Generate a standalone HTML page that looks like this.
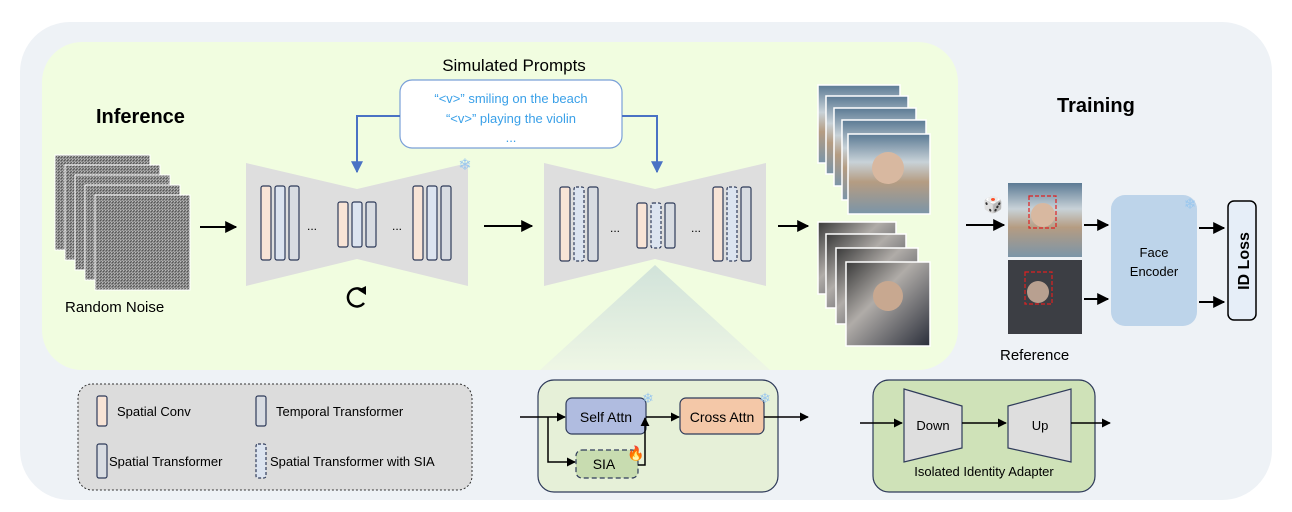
<!DOCTYPE html>
<html><head><style>
body{margin:0;background:#fff}
svg{display:block}
text{font-family:"Comic Sans MS","Liberation Sans",sans-serif}
</style></head><body>
<svg width="1292" height="512" viewBox="0 0 1292 512" xmlns="http://www.w3.org/2000/svg">
<defs>
<marker id="a" viewBox="0 0 10 10" refX="9" refY="5" markerWidth="6" markerHeight="6" orient="auto"><path d="M0,0L10,5L0,10z" fill="#000"/></marker>
<marker id="b" viewBox="0 0 10 10" refX="9" refY="5" markerWidth="6" markerHeight="6" orient="auto"><path d="M0,0L10,5L0,10z" fill="#4a72c4"/></marker>
<pattern id="n" width="3" height="3" patternUnits="userSpaceOnUse"><rect width="3" height="3" fill="#888"/><rect width="1" height="1" fill="#bbb"/><rect x="1" y="1" width="1" height="1" fill="#555"/><rect x="2" y="2" width="1" height="1" fill="#aaa"/><rect x="2" y="0" width="1" height="1" fill="#666"/></pattern>
<linearGradient id="beach" x1="0" y1="0" x2="0" y2="1"><stop offset="0" stop-color="#5b7a94"/><stop offset=".35" stop-color="#c8d2d8"/><stop offset=".6" stop-color="#b59c82"/><stop offset="1" stop-color="#7b95a8"/></linearGradient>
<linearGradient id="dark" x1="0" y1="0" x2="1" y2="1"><stop offset="0" stop-color="#3a3a3a"/><stop offset=".4" stop-color="#b0aca8"/><stop offset="1" stop-color="#2a2e3a"/></linearGradient>
<linearGradient id="tri" x1="0" y1="0" x2="0" y2="1"><stop offset="0" stop-color="#c9dcd8"/><stop offset="1" stop-color="#eef5e6"/></linearGradient>
</defs>
<rect x="20" y="22" width="1252" height="478" rx="50" fill="#eef2f6"/>
<rect x="42" y="42" width="916" height="328" rx="40" fill="#f1fde0"/>
<polygon points="655,265 540,370 770,370" fill="url(#tri)" opacity=".8"/>
<text x="96" y="123" font-size="20" font-weight="bold">Inference</text>
<text x="1057" y="112" font-size="20" font-weight="bold">Training</text>
<text x="514" y="71" font-size="17" text-anchor="middle">Simulated Prompts</text>
<rect x="400" y="80" width="222" height="68" rx="12" fill="#fff" stroke="#7aa0d8" stroke-width="1.2"/>
<text x="511" y="103" font-size="13" fill="#3aa0e8" text-anchor="middle">“&lt;v&gt;” smiling on the beach</text>
<text x="511" y="123" font-size="13" fill="#3aa0e8" text-anchor="middle">“&lt;v&gt;” playing the violin</text>
<text x="511" y="142" font-size="13" fill="#3aa0e8" text-anchor="middle">...</text>
<path d="M400,116H357V172" fill="none" stroke="#4a72c4" stroke-width="2" marker-end="url(#b)"/>
<path d="M622,116H657V172" fill="none" stroke="#4a72c4" stroke-width="2" marker-end="url(#b)"/>
<g stroke="#fff" stroke-width="1">
<rect x="55" y="155" width="95" height="95" fill="url(#n)"/>
<rect x="65" y="165" width="95" height="95" fill="url(#n)"/>
<rect x="75" y="175" width="95" height="95" fill="url(#n)"/>
<rect x="85" y="185" width="95" height="95" fill="url(#n)"/>
<rect x="95" y="195" width="95" height="95" fill="url(#n)"/>
</g>
<text x="65" y="312" font-size="15">Random Noise</text>
<line x1="200" y1="227" x2="236" y2="227" stroke="#000" stroke-width="2" marker-end="url(#a)"/>
<polygon points="246,163 357,189 468,163 468,286 357,259 246,286" fill="#dedede"/>
<g stroke="#2f3b5a" stroke-width="1.2">
<rect x="261" y="186" width="10" height="74" rx="2" fill="#f8e4d6"/>
<rect x="275" y="186" width="10" height="74" rx="2" fill="#dce4f0"/>
<rect x="289" y="186" width="10" height="74" rx="2" fill="#d8dce2"/>
<rect x="338" y="202" width="10" height="45" rx="2" fill="#f8e4d6"/>
<rect x="352" y="202" width="10" height="45" rx="2" fill="#dce4f0"/>
<rect x="366" y="202" width="10" height="45" rx="2" fill="#d8dce2"/>
<rect x="413" y="186" width="10" height="74" rx="2" fill="#f8e4d6"/>
<rect x="427" y="186" width="10" height="74" rx="2" fill="#dce4f0"/>
<rect x="441" y="186" width="10" height="74" rx="2" fill="#d8dce2"/>
</g>
<text x="312" y="230" font-size="12" text-anchor="middle">...</text>
<text x="397" y="230" font-size="12" text-anchor="middle">...</text>
<text x="465" y="170" font-size="16" fill="#9cc8ee" text-anchor="middle">❄</text>
<path d="M362,290 A9,9 0 1 0 364,303" fill="none" stroke="#000" stroke-width="2.5"/>
<path d="M358,290 L366,286 L366,295z" fill="#000"/>
<line x1="484" y1="226" x2="532" y2="226" stroke="#000" stroke-width="2" marker-end="url(#a)"/>
<polygon points="544,163 655,189 766,163 766,286 655,259 544,286" fill="#dedede"/>
<g stroke="#2f3b5a" stroke-width="1.2">
<rect x="560" y="187" width="10" height="74" rx="2" fill="#f8e4d6"/>
<rect x="574" y="187" width="10" height="74" rx="2" fill="#dce4f0" stroke-dasharray="3,2"/>
<rect x="588" y="187" width="10" height="74" rx="2" fill="#d8dce2"/>
<rect x="637" y="203" width="10" height="45" rx="2" fill="#f8e4d6"/>
<rect x="651" y="203" width="10" height="45" rx="2" fill="#dce4f0" stroke-dasharray="3,2"/>
<rect x="665" y="203" width="10" height="45" rx="2" fill="#d8dce2"/>
<rect x="713" y="187" width="10" height="74" rx="2" fill="#f8e4d6"/>
<rect x="727" y="187" width="10" height="74" rx="2" fill="#dce4f0" stroke-dasharray="3,2"/>
<rect x="741" y="187" width="10" height="74" rx="2" fill="#d8dce2"/>
</g>
<text x="615" y="232" font-size="12" text-anchor="middle">...</text>
<text x="696" y="232" font-size="12" text-anchor="middle">...</text>
<line x1="778" y1="226" x2="808" y2="226" stroke="#000" stroke-width="2" marker-end="url(#a)"/>
<g stroke="#fff" stroke-width="1.5">
<rect x="818" y="85" width="82" height="78" fill="url(#beach)"/>
<rect x="826" y="96" width="82" height="78" fill="url(#beach)"/>
<rect x="834" y="108" width="82" height="78" fill="url(#beach)"/>
<rect x="842" y="120" width="84" height="80" fill="url(#beach)"/>
<rect x="848" y="134" width="82" height="80" fill="url(#beach)"/>
<rect x="818" y="222" width="78" height="72" fill="url(#dark)"/>
<rect x="826" y="234" width="80" height="74" fill="url(#dark)"/>
<rect x="836" y="248" width="82" height="76" fill="url(#dark)"/>
<rect x="846" y="262" width="84" height="84" fill="url(#dark)"/>
</g>
<circle cx="888" cy="168" r="16" fill="#d8b8a0"/>
<circle cx="888" cy="296" r="15" fill="#c8a890"/>
<text x="983" y="210" font-size="16">🎲</text>
<line x1="966" y1="225" x2="1004" y2="225" stroke="#000" stroke-width="2" marker-end="url(#a)"/>
<rect x="1008" y="183" width="74" height="74" fill="url(#beach)"/>
<rect x="1008" y="260" width="74" height="74" fill="#3c3e44"/>
<circle cx="1043" cy="215" r="12" fill="#d8b8a0"/>
<circle cx="1038" cy="292" r="11" fill="#b8a090"/>
<rect x="1029" y="196" width="27" height="32" fill="none" stroke="#e02020" stroke-dasharray="4,2" stroke-width="1.2"/>
<rect x="1025" y="272" width="27" height="32" fill="none" stroke="#e02020" stroke-dasharray="4,2" stroke-width="1.2"/>
<text x="1000" y="360" font-size="15">Reference</text>
<line x1="1084" y1="225" x2="1108" y2="225" stroke="#000" stroke-width="2" marker-end="url(#a)"/>
<line x1="1084" y1="299" x2="1108" y2="299" stroke="#000" stroke-width="2" marker-end="url(#a)"/>
<rect x="1111" y="195" width="86" height="131" rx="14" fill="#bdd4ea"/>
<text x="1154" y="257" font-size="13" text-anchor="middle">Face</text>
<text x="1154" y="276" font-size="13" text-anchor="middle">Encoder</text>
<text x="1190" y="209" font-size="15" fill="#9cc8ee" text-anchor="middle">❄</text>
<line x1="1199" y1="228" x2="1224" y2="228" stroke="#000" stroke-width="2" marker-end="url(#a)"/>
<line x1="1199" y1="302" x2="1224" y2="302" stroke="#000" stroke-width="2" marker-end="url(#a)"/>
<rect x="1228" y="201" width="28" height="119" rx="6" fill="#e6eef8" stroke="#000" stroke-width="1.5"/>
<text transform="translate(1249,261) rotate(-90)" font-size="16" font-weight="bold" text-anchor="middle">ID Loss</text>
<rect x="78" y="384" width="394" height="106" rx="14" fill="#dcdcdc" stroke="#333" stroke-width="1" stroke-dasharray="2,2"/>
<g stroke="#2f3b5a" stroke-width="1.2">
<rect x="97" y="396" width="10" height="30" rx="2" fill="#f8e4d6"/>
<rect x="256" y="396" width="10" height="30" rx="2" fill="#d8dce2"/>
<rect x="97" y="444" width="10" height="34" rx="2" fill="#d8dce2"/>
<rect x="256" y="444" width="10" height="34" rx="2" fill="#dce4f0" stroke-dasharray="3,2"/>
</g>
<text x="117" y="416" font-size="13">Spatial Conv</text>
<text x="276" y="416" font-size="13">Temporal Transformer</text>
<text x="109" y="466" font-size="13">Spatial Transformer</text>
<text x="270" y="466" font-size="13">Spatial Transformer with SIA</text>
<rect x="538" y="380" width="240" height="112" rx="16" fill="#e6f0d8" stroke="#2f3b5a" stroke-width="1.2"/>
<rect x="566" y="398" width="80" height="36" rx="6" fill="#b0bce0" stroke="#2f3b5a" stroke-width="1.2"/>
<text x="606" y="422" font-size="14" text-anchor="middle">Self Attn</text>
<rect x="680" y="398" width="84" height="36" rx="6" fill="#f4c8a8" stroke="#2f3b5a" stroke-width="1.2"/>
<text x="722" y="422" font-size="14" text-anchor="middle">Cross Attn</text>
<rect x="576" y="450" width="62" height="28" rx="6" fill="#c8dcb0" stroke="#2f3b5a" stroke-width="1.2" stroke-dasharray="5,3"/>
<text x="604" y="469" font-size="14" text-anchor="middle">SIA</text>
<text x="648" y="403" font-size="14" fill="#9cc8ee" text-anchor="middle">❄</text>
<text x="765" y="403" font-size="14" fill="#9cc8ee" text-anchor="middle">❄</text>
<text x="636" y="458" font-size="14" text-anchor="middle">🔥</text>
<g stroke="#000" stroke-width="1.5" fill="none">
<line x1="520" y1="417" x2="565" y2="417" marker-end="url(#a)"/>
<path d="M548,417V462H575" marker-end="url(#a)"/>
<line x1="646" y1="417" x2="679" y2="417" marker-end="url(#a)"/>
<path d="M638,465H645V418" marker-end="url(#a)"/>
<line x1="764" y1="417" x2="808" y2="417" marker-end="url(#a)"/>
</g>
<rect x="873" y="380" width="222" height="112" rx="16" fill="#cfe2b8" stroke="#2f3b5a" stroke-width="1.2"/>
<polygon points="904,389 962,406 962,448 904,462" fill="#dedede" stroke="#2f3b5a" stroke-width="1.2"/>
<polygon points="1008,406 1071,389 1071,462 1008,448" fill="#dedede" stroke="#2f3b5a" stroke-width="1.2"/>
<text x="933" y="430" font-size="13" text-anchor="middle">Down</text>
<text x="1040" y="430" font-size="13" text-anchor="middle">Up</text>
<text x="984" y="476" font-size="13" text-anchor="middle">Isolated Identity Adapter</text>
<g stroke="#000" stroke-width="1.5">
<line x1="860" y1="423" x2="902" y2="423" marker-end="url(#a)"/>
<line x1="962" y1="423" x2="1006" y2="423" marker-end="url(#a)"/>
<line x1="1071" y1="423" x2="1110" y2="423" marker-end="url(#a)"/>
</g>
</svg>
</body></html>
